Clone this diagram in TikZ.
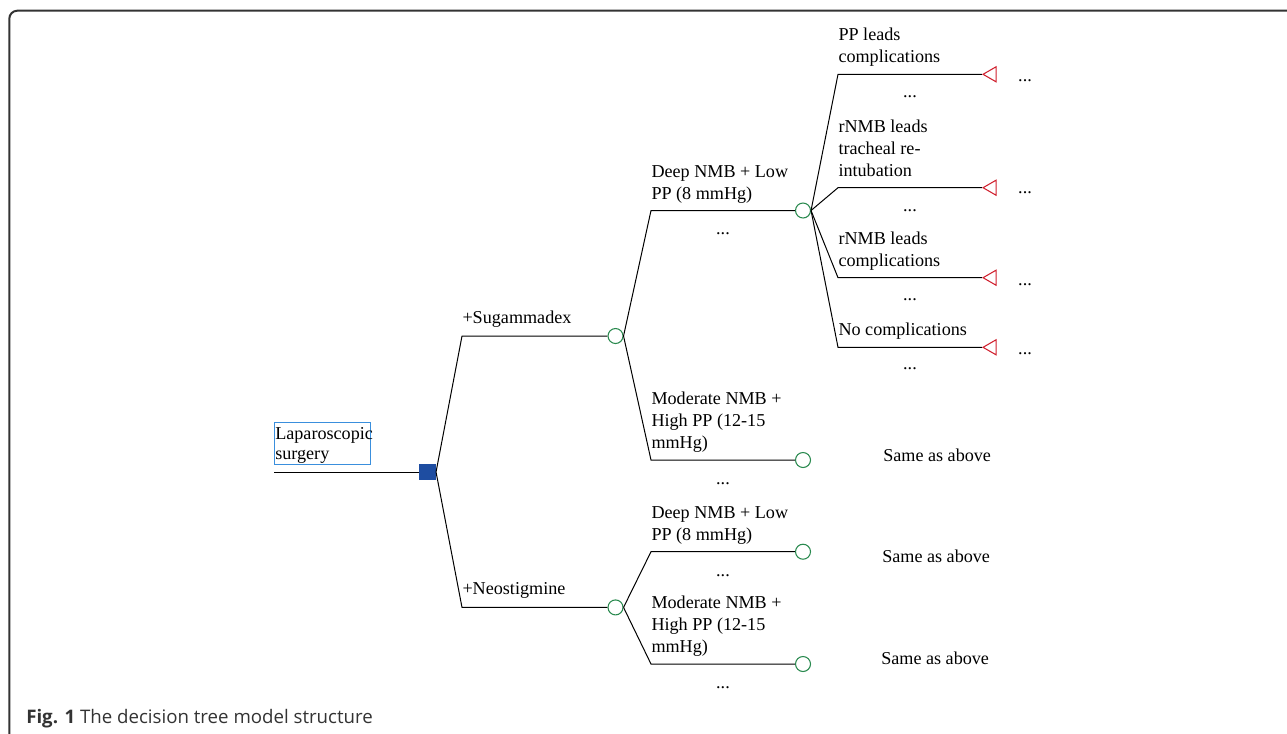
\documentclass[tikz,border=0pt]{standalone}
\usepackage{fontspec}
\setmainfont{Liberation Serif}
\newfontfamily\capfont{Open Sans}
\usetikzlibrary{shapes.geometric}
\definecolor{decblue}{HTML}{1E4DA1}
\definecolor{boxblue}{HTML}{3A8FDD}
\definecolor{chgreen}{HTML}{2A8A4F}
\definecolor{endred}{HTML}{D0202E}
\definecolor{framegray}{HTML}{333333}
\tikzset{
  branch/.style={line width=0.75pt, black},
  decision/.style={rectangle, fill=decblue, inner sep=0pt, minimum size=12.4pt},
  chance/.style={circle, draw=chgreen, line width=0.8pt, inner sep=0pt, minimum size=11.25pt},
  terminal/.style={regular polygon, regular polygon sides=3, shape border rotate=90,
    draw=endred, line width=0.8pt, inner sep=0pt, minimum size=13pt},
  lbl/.style={align=left, anchor=south west, inner sep=0pt, yshift=3.3pt,
    font=\fontsize{13.6}{16.5}\selectfont},
  dots/.style={anchor=base, inner sep=0pt, font=\fontsize{13.6}{16.5}\selectfont},
  same/.style={anchor=base west, inner sep=0pt, font=\fontsize{13.6}{16.5}\selectfont},
}

\begin{document}
\begin{tikzpicture}[x=0.75pt, y=-0.75pt]
    \useasboundingbox (0,0) rectangle (1287,733);
    % frame
    \begin{scope}
      \clip (0,0) rectangle (1287,733);
      \draw[framegray, line width=1.5pt, rounded corners=6pt] (9.3,10.7) rectangle (1320,770);
    \end{scope}
    % root
    \coordinate (start) at (274,472);
    \node[decision] (D0) at (427.5,472) {};
    \node[draw=boxblue, line width=0.75pt, inner sep=0pt, anchor=north west,
      minimum width=72.2pt, minimum height=31.7pt] (rootbox) at (274,421.7) {};
    \node[anchor=south west, inner sep=0pt, align=left, font=\fontsize{13.6}{15}\selectfont]
      (roottxt) at (275,465.3) {Laparoscopic\\surgery\strut};
    \draw[branch] (start) -- (D0);
    % first level
    \coordinate (s1) at (462,336);
    \coordinate (n1) at (462,607.4);
    \node[chance] (cS) at (615.5,336) {};
    \node[chance] (cN) at (615.5,607.4) {};
    \draw[branch] (D0.east) -- (s1) node[lbl, yshift=1pt] {+Sugammadex\strut} -- (cS);
    \draw[branch] (D0.east) -- (n1) node[lbl, yshift=1pt] {+Neostigmine\strut} -- (cN);
    % second level
    \coordinate (sd) at (651,210.5);
    \coordinate (sm) at (651,460);
    \coordinate (nd) at (651,551.7);
    \coordinate (nm) at (651,664);
    \node[chance] (cSD) at (803,210.5) {};
    \node[chance] (cSM) at (803,460) {};
    \node[chance] (cND) at (803,551.7) {};
    \node[chance] (cNM) at (803,664) {};
    \draw[branch] (cS.east) -- (sd) node[lbl] {Deep NMB + Low\\PP (8 mmHg)\strut}
      -- (cSD) node[dots, midway, yshift=-18pt] {...};
    \draw[branch] (cS.east) -- (sm) node[lbl] {Moderate NMB +\\High PP (12-15\\mmHg)\strut}
      -- (cSM) node[dots, midway, yshift=-18pt] {...};
    \draw[branch] (cN.east) -- (nd) node[lbl] {Deep NMB + Low\\PP (8 mmHg)\strut}
      -- (cND) node[dots, midway, yshift=-18.5pt] {...};
    \draw[branch] (cN.east) -- (nm) node[lbl] {Moderate NMB +\\High PP (12-15\\mmHg)\strut}
      -- (cNM) node[dots, midway, yshift=-18pt] {...};
    \node[same] (same1) at (883,461) {Same as above};
    \node[same] (same2) at (882,562) {Same as above};
    \node[same] (same3) at (881,664) {Same as above};
    % third level
    \coordinate (o1) at (838,74.3);
    \coordinate (o2) at (838,187.7);
    \coordinate (o3) at (838,277.7);
    \coordinate (o4) at (838,347.3);
    \node[terminal] (t1) at (991.7,74.3) {};
    \node[terminal] (t2) at (991.7,187.7) {};
    \node[terminal] (t3) at (991.7,277.7) {};
    \node[terminal] (t4) at (991.7,347.3) {};
    \draw[branch] (cSD.east) -- (o1) node[lbl] {PP leads\\complications\strut}
      -- (t1) node[dots, midway, yshift=-17.5pt] {...};
    \draw[branch] (cSD.east) -- (o2) node[lbl] {rNMB leads\\tracheal re-\\intubation\strut}
      -- (t2) node[dots, midway, yshift=-17.5pt] {...};
    \draw[branch] (cSD.east) -- (o3) node[lbl] {rNMB leads\\complications\strut}
      -- (t3) node[dots, midway, yshift=-17pt] {...};
    \draw[branch] (cSD.east) -- (o4) node[lbl] {No complications\strut}
      -- (t4) node[dots, midway, yshift=-17pt] {...};
    \node[dots] (e1) at (1025,81) {...};
    \node[dots] (e2) at (1025,193.5) {...};
    \node[dots] (e3) at (1025,285) {...};
    \node[dots] (e4) at (1025,354.3) {...};
    % caption
    \node[anchor=base west, inner sep=0pt, text=framegray, font=\capfont\fontsize{14}{16}\selectfont]
      (cap) at (26,723) {\textbf{Fig. 1} The decision tree model structure};
\end{tikzpicture}
\end{document}
